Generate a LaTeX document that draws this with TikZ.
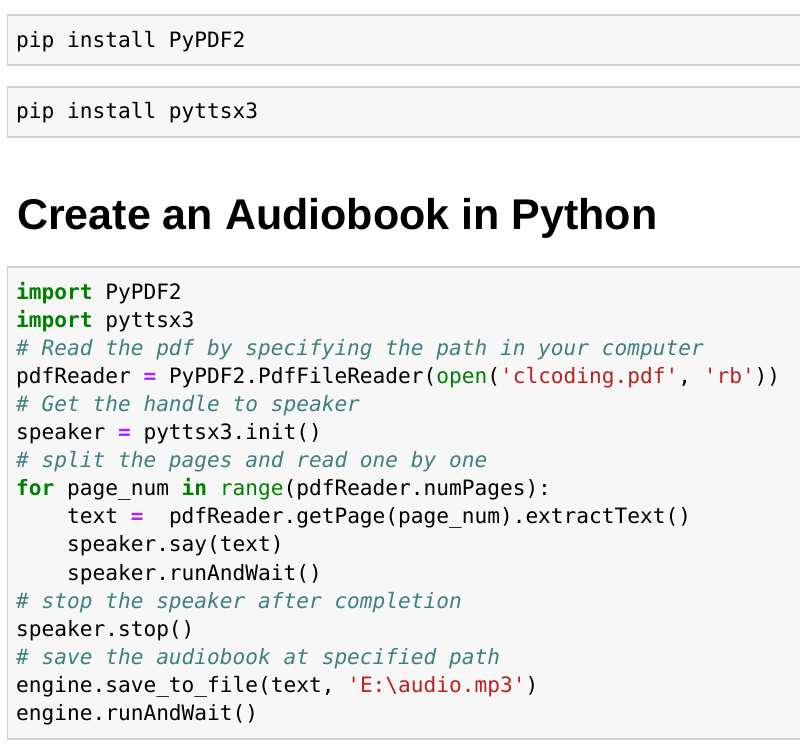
\documentclass[tikz,border=0pt]{standalone}
\usepackage{fontspec}
\setmonofont{DejaVu Sans Mono}
\newfontfamily\titlefont{Liberation Sans}
\definecolor{cellfill}{HTML}{F7F7F7}
\definecolor{cellline}{HTML}{CFCFCF}
\definecolor{kwgreen}{HTML}{008000}
\definecolor{cmteal}{HTML}{408080}
\definecolor{oppurple}{HTML}{AA22FF}
\definecolor{strred}{HTML}{BA2121}
\newcommand{\pyKw}[1]{\textcolor{kwgreen}{\bfseries #1}}
\newcommand{\pyBi}[1]{\textcolor{kwgreen}{#1}}
\newcommand{\pyCm}[1]{\textcolor{cmteal}{\itshape #1}}
\newcommand{\pyOp}[1]{\textcolor{oppurple}{\bfseries #1}}
\newcommand{\pyStr}[1]{\textcolor{strred}{#1}}
\newcommand{\q}{\textquotesingle}
\begin{document}
\begin{tikzpicture}[x=1pt,y=-1pt,
  cellbox/.style={draw=cellline,fill=cellfill,line width=1.2pt},
  code/.style={anchor=base west,inner sep=0pt,font=\ttfamily\fontsize{21.15}{24}\selectfont,text=black},
  heading/.style={anchor=base west,inner sep=0pt,font=\titlefont\bfseries\fontsize{43}{48}\selectfont}]
\clip (0,0) rectangle (800,750);
\fill[white] (0,0) rectangle (800,750);
% cells
\draw[cellbox] (7.5,15) rectangle (810,65);
\draw[cellbox] (7.5,87) rectangle (810,137);
\draw[cellbox] (7.5,267) rectangle (810,739);
% pip cells
\node[code] (p1) at (16,47) {pip install PyPDF2};
\node[code] (p2) at (16,118) {pip install pyttsx3};
% title
\node[heading] (title) at (17,229) {Create an Audiobook in Python};
% code
\node[code] (l0) at (16,299.0) {\pyKw{import} PyPDF2};
\node[code] (l1) at (16,327.1) {\pyKw{import} pyttsx3};
\node[code] (l2) at (16,355.2) {\pyCm{\# Read the pdf by specifying the path in your computer}};
\node[code] (l3) at (16,383.3) {pdfReader \pyOp{=} PyPDF2.PdfFileReader(\pyBi{open}(\pyStr{\q clcoding.pdf\q}, \pyStr{\q rb\q}))};
\node[code] (l4) at (16,411.4) {\pyCm{\# Get the handle to speaker}};
\node[code] (l5) at (16,439.5) {speaker \pyOp{=} pyttsx3.init()};
\node[code] (l6) at (16,467.6) {\pyCm{\# split the pages and read one by one}};
\node[code] (l7) at (16,495.7) {\pyKw{for} page\_num \pyKw{in} \pyBi{range}(pdfReader.numPages):};
\node[code] (l8) at (16,523.8) {~~~~text \pyOp{=}~ pdfReader.getPage(page\_num).extractText()};
\node[code] (l9) at (16,551.9) {~~~~speaker.say(text)};
\node[code] (l10) at (16,580.0) {~~~~speaker.runAndWait()};
\node[code] (l11) at (16,608.1) {\pyCm{\# stop the speaker after completion}};
\node[code] (l12) at (16,636.2) {speaker.stop()};
\node[code] (l13) at (16,664.3) {\pyCm{\# save the audiobook at specified path}};
\node[code] (l14) at (16,692.4) {engine.save\_to\_file(text, \pyStr{\q E:\textbackslash audio.mp3\q})};
\node[code] (l15) at (16,720.5) {engine.runAndWait()};
\end{tikzpicture}
\end{document}
